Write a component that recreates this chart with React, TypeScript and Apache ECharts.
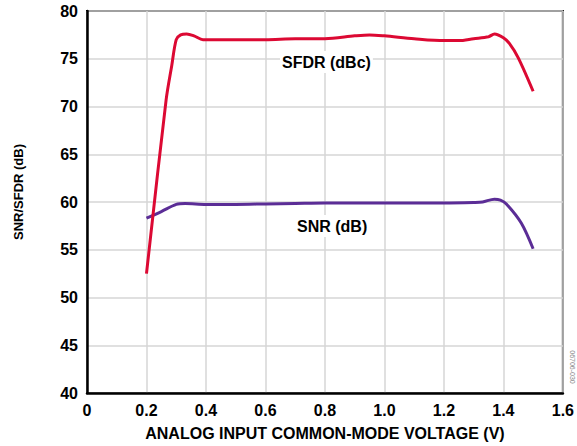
import React, { useEffect, useRef } from "react";
import * as echarts from "echarts";

const sfdrX = [0.2, 0.266, 0.285, 0.3, 0.315, 0.335, 0.36, 0.39, 0.42, 0.5, 0.6, 0.7, 0.8, 0.9, 0.95, 1.0, 1.1, 1.2, 1.25, 1.3, 1.35, 1.37, 1.4, 1.42, 1.45, 1.5];
const sfdrY = [52.5, 70.7, 74.3, 77.0, 77.5, 77.6, 77.4, 77.0, 77.0, 77.0, 77.0, 77.1, 77.1, 77.4, 77.5, 77.4, 77.1, 76.9, 76.9, 77.1, 77.3, 77.6, 77.2, 76.6, 75.1, 71.6];

const snrX = [0.2, 0.25, 0.3, 0.33, 0.4, 0.5, 0.6, 0.7, 0.8, 0.9, 1.0, 1.1, 1.2, 1.3, 1.33, 1.37, 1.39, 1.41, 1.46, 1.5];
const snrY = [58.3, 59.0, 59.75, 59.85, 59.75, 59.75, 59.8, 59.85, 59.9, 59.9, 59.9, 59.9, 59.9, 59.95, 60.0, 60.3, 60.2, 59.8, 57.8, 55.1];

const xTitle = "ANALOG INPUT COMMON-MODE VOLTAGE (V)";
const yTitle = "SNR/SFDR (dB)";
const sfdrLabel = "SFDR (dBc)";
const snrLabel = "SNR (dB)";
const figId = "06706-030";

const FONT = "'Liberation Sans', Arial, Helvetica, sans-serif";

export default function App() {
  const ref = useRef<HTMLDivElement>(null);
  useEffect(() => {
    if (!ref.current) return;
    const chart = echarts.init(ref.current, null, { renderer: "svg" });
    const pairs = (xs: number[], ys: number[]) => xs.map((x, i) => [x, ys[i]]);
    chart.setOption({
      animation: false,
      backgroundColor: "#ffffff",
      grid: {
        left: 87,
        right: 11,
        top: 11,
        bottom: 52,
        show: true,
        borderColor: "#000",
        borderWidth: 2,
        backgroundColor: "transparent",
      },
      xAxis: {
        type: "value",
        min: 0,
        max: 1.6,
        interval: 0.2,
        name: xTitle,
        nameLocation: "middle",
        nameGap: 32,
        nameTextStyle: { fontFamily: FONT, fontWeight: "bold", fontSize: 16, color: "#000" },
        axisLine: { show: true, lineStyle: { color: "#000", width: 2.5 } },
        axisTick: { show: false },
        axisLabel: {
          fontFamily: FONT,
          fontWeight: "bold",
          fontSize: 16,
          color: "#000",
          margin: 9,
          formatter: (v: number) => (v === 0 ? "0" : v.toFixed(1)),
        },
        splitLine: { show: true, lineStyle: { color: "#d6d6d6", width: 1.5 } },
      },
      yAxis: {
        type: "value",
        min: 40,
        max: 80,
        interval: 5,
        axisLine: { show: true, lineStyle: { color: "#000", width: 2.5 } },
        axisTick: { show: false },
        axisLabel: {
          fontFamily: FONT,
          fontWeight: "bold",
          fontSize: 16,
          color: "#000",
          margin: 9,
        },
        splitLine: { show: true, lineStyle: { color: "#d6d6d6", width: 1.5 } },
      },
      series: [
        {
          name: "SFDR",
          type: "line",
          data: pairs(sfdrX, sfdrY),
          smooth: 0.3,
          showSymbol: false,
          lineStyle: { color: "#dc0933", width: 3 },
          z: 3,
        },
        {
          name: "SNR",
          type: "line",
          data: pairs(snrX, snrY),
          smooth: 0.3,
          showSymbol: false,
          lineStyle: { color: "#5b2d96", width: 3 },
          z: 2,
        },
      ],
      graphic: [
        {
          type: "text",
          x: 280,
          y: 62,
          z: 10,
          style: { text: sfdrLabel, fontFamily: FONT, fontWeight: "bold", fontSize: 16, fill: "#000", verticalAlign: "middle", backgroundColor: "#fff", padding: [3, 2] },
        },
        {
          type: "text",
          x: 295,
          y: 226,
          z: 10,
          style: { text: snrLabel, fontFamily: FONT, fontWeight: "bold", fontSize: 16, fill: "#000", verticalAlign: "middle", backgroundColor: "#fff", padding: [3, 2] },
        },
        {
          type: "text",
          x: 18,
          y: 192,
          rotation: Math.PI / 2,
          style: { text: yTitle, fontFamily: FONT, fontWeight: "bold", fontSize: 13, fill: "#000", align: "center", verticalAlign: "middle" },
        },
        {
          type: "text",
          x: 572,
          y: 367,
          rotation: -Math.PI / 2,
          style: { text: figId, fontFamily: FONT, fontSize: 7, fill: "#888", align: "center", verticalAlign: "middle" },
        },
      ],
    });
    return () => chart.dispose();
  }, []);
  return <div ref={ref} style={{ width: 577, height: 446, position: "absolute", left: 0, top: 0 }} />;
}
